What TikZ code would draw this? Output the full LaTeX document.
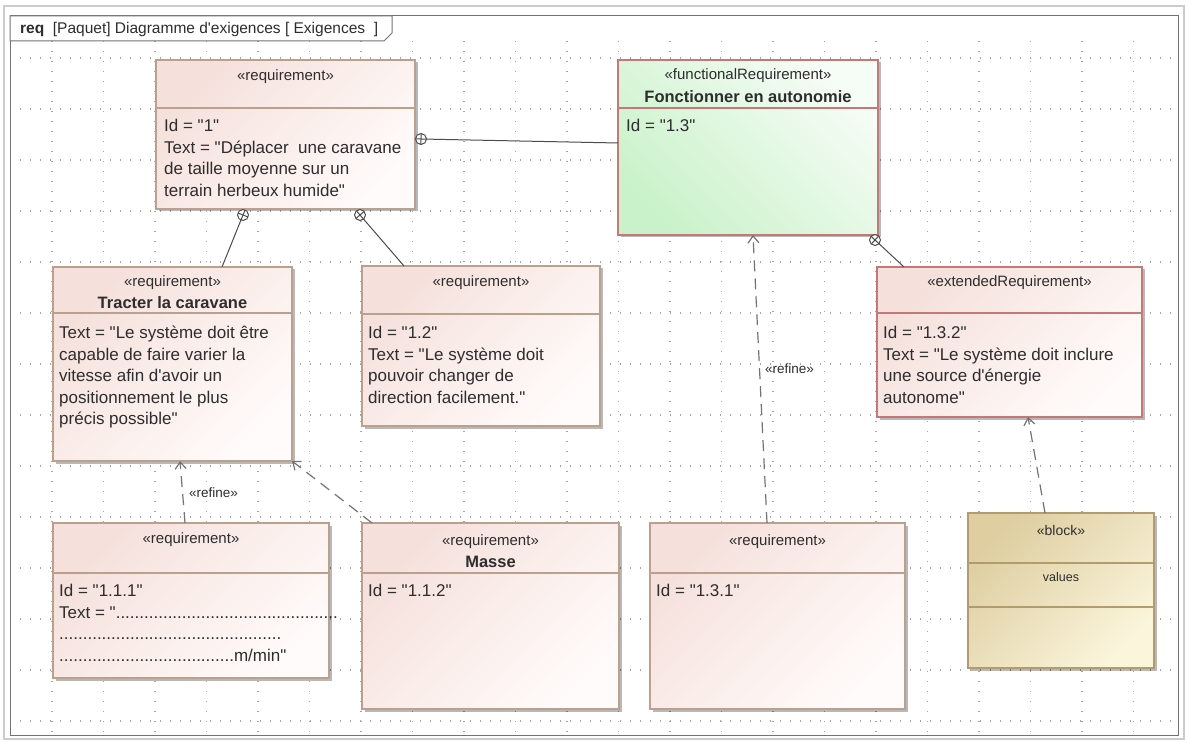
\documentclass[tikz,border=0pt]{standalone}
\usepackage{fontspec}
\setmainfont{Liberation Sans}[Ligatures=TeXOff]
\usetikzlibrary{calc,arrows.meta,shadows}
\definecolor{reqA}{RGB}{245,224,219}
\definecolor{reqB}{RGB}{255,251,250}
\definecolor{reqD}{RGB}{188,160,142}
\definecolor{funA}{RGB}{202,242,202}
\definecolor{funB}{RGB}{246,252,246}
\definecolor{redD}{RGB}{196,120,120}
\definecolor{blkA}{RGB}{222,206,160}
\definecolor{blkB}{RGB}{251,245,220}
\definecolor{blkD}{RGB}{176,156,110}
\definecolor{txt}{RGB}{45,45,45}
\definecolor{gridc}{RGB}{165,165,165}
\begin{document}
\begin{tikzpicture}[x=1pt,y=1pt,
  every node/.style={text=txt},
  reqbox/.style={draw=reqD, line width=1.5pt, anchor=north west, inner sep=0, outer sep=0,
    left color=reqA, right color=reqB, shading angle=45,
    drop shadow={shadow xshift=2.5pt,shadow yshift=-2.5pt,opacity=.28,fill=black}},
  funbox/.style={reqbox, draw=redD, left color=funA, right color=funB, shading angle=135},
  extbox/.style={reqbox, draw=redD},
  blkbox/.style={reqbox, draw=blkD, left color=blkA, right color=blkB, shading angle=45},
  divline/.style={line width=1.2pt},
  stereo/.style={font=\fontsize{15}{17}\selectfont, inner sep=0},
  bname/.style={font=\bfseries\fontsize{16.5}{18}\selectfont, inner sep=0},
  body/.style={anchor=north west, align=left, inner sep=0, font=\fontsize{17}{21.5}\selectfont},
  own/.style={line width=1pt, draw=black!70},
  refine/.style={draw=black!55, line width=1.2pt, dash pattern=on 11pt off 7pt,
    -{Straight Barb[length=7pt,width=11pt,line width=1.2pt]}},
  reflbl/.style={font=\fontsize{13.5}{15}\selectfont, inner sep=0, anchor=west},
  gridl/.style={gridc, line width=1.4pt, dash pattern=on 1.4pt off 8.6pt}
]
\useasboundingbox (0,0) rectangle (1188,-743);
\fill[white] (0,0) rectangle (1188,-743);
% grid
\foreach \gx in {52,103.5,...,1170} \draw[gridl] (\gx,-41) -- (\gx,-735);
\foreach \gy in {58,109,...,730} \draw[gridl] (10,-\gy) -- (1178,-\gy);
% frame
\draw[gray!40, line width=1.2pt] (4,-6) rectangle (1184,-739);
\draw[black!55, line width=1pt] (10,-16) rectangle (1178,-735);
\draw[black!55, line width=1pt, fill=white] (10,-16) -- (392,-16) -- (392,-33) -- (384,-41) -- (10,-41) -- cycle;
\node[anchor=west, inner sep=0, font=\fontsize{15.5}{17}\selectfont] (title) at (20,-29)
  {\textbf{req}~~[Paquet] Diagramme d'exigences [ Exigences~~]};

% box 1
\node[reqbox, minimum width=259pt, minimum height=149pt] (r1) at (156,-60) {};
\draw[reqD, divline] ($(r1.north west)+(0,-48)$) -- ($(r1.north east)+(0,-48)$);
\node[stereo] (r1s) at ($(r1.north)+(0,-17)$) {«requirement»};
\node[body] (r1b) at ($(r1.north west)+(8,-59)$) {Id = "1"\\Text = "Déplacer\ \ une caravane\\de taille moyenne sur un\\terrain herbeux humide"};

% functional
\node[funbox, minimum width=260pt, minimum height=175pt] (fun) at (618,-60) {};
\draw[redD, divline] ($(fun.north west)+(0,-48)$) -- ($(fun.north east)+(0,-48)$);
\node[stereo] (funs) at ($(fun.north)+(0,-16)$) {«functionalRequirement»};
\node[bname] (funn) at ($(fun.north)+(0,-37)$) {Fonctionner en autonomie};
\node[body] (funb) at ($(fun.north west)+(8,-59)$) {Id = "1.3"};

% tracter
\node[reqbox, minimum width=239pt, minimum height=194pt] (tr) at (53,-267) {};
\draw[reqD, divline] ($(tr.north west)+(0,-46)$) -- ($(tr.north east)+(0,-46)$);
\node[stereo] (trs) at ($(tr.north)+(0,-16)$) {«requirement»};
\node[bname] (trn) at ($(tr.north)+(0,-36)$) {Tracter la caravane};
\node[body] (trb) at ($(tr.north west)+(6,-59)$) {Text = "Le système doit être\\capable de faire varier la\\vitesse afin d'avoir un\\positionnement le plus\\précis possible"};

% 1.2
\node[reqbox, minimum width=238pt, minimum height=160pt] (r12) at (362,-266) {};
\draw[reqD, divline] ($(r12.north west)+(0,-48)$) -- ($(r12.north east)+(0,-48)$);
\node[stereo] (r12s) at ($(r12.north)+(0,-17)$) {«requirement»};
\node[body] (r12b) at ($(r12.north west)+(6,-60)$) {Id = "1.2"\\Text = "Le système doit\\pouvoir changer de\\direction facilement."};

% extended
\node[extbox, minimum width=265pt, minimum height=150pt] (ext) at (877,-267) {};
\draw[redD, divline] ($(ext.north west)+(0,-46)$) -- ($(ext.north east)+(0,-46)$);
\node[stereo] (exts) at ($(ext.north)+(0,-16)$) {«extendedRequirement»};
\node[body] (extb) at ($(ext.north west)+(6,-59)$) {Id = "1.3.2"\\Text = "Le système doit inclure\\une source d'énergie\\autonome"};

% 1.1.1
\node[reqbox, minimum width=276pt, minimum height=155pt] (s111) at (53,-523) {};
\draw[reqD, divline] ($(s111.north west)+(0,-50)$) -- ($(s111.north east)+(0,-50)$);
\node[stereo] (s111s) at ($(s111.north)+(0,-17)$) {«requirement»};
\node[body] (s111b) at ($(s111.north west)+(6,-61)$) {Id = "1.1.1"\\Text = "...............................................\\...............................................\\.....................................m/min"};

% masse
\node[reqbox, minimum width=257pt, minimum height=186pt] (masse) at (362,-523) {};
\draw[reqD, divline] ($(masse.north west)+(0,-50)$) -- ($(masse.north east)+(0,-50)$);
\node[stereo] (masses) at ($(masse.north)+(0,-19)$) {«requirement»};
\node[bname] (massen) at ($(masse.north)+(0,-39)$) {Masse};
\node[body] (masseb) at ($(masse.north west)+(6,-61)$) {Id = "1.1.2"};

% 1.3.1
\node[reqbox, minimum width=255pt, minimum height=186pt] (s131) at (650,-523) {};
\draw[reqD, divline] ($(s131.north west)+(0,-50)$) -- ($(s131.north east)+(0,-50)$);
\node[stereo] (s131s) at ($(s131.north)+(0,-19)$) {«requirement»};
\node[body] (s131b) at ($(s131.north west)+(6,-61)$) {Id = "1.3.1"};

% block
\node[blkbox, minimum width=186pt, minimum height=155pt] (blk) at (968,-513) {};
\draw[blkD, divline] ($(blk.north west)+(0,-50)$) -- ($(blk.north east)+(0,-50)$);
\draw[blkD, divline] ($(blk.north west)+(0,-94)$) -- ($(blk.north east)+(0,-94)$);
\node[stereo, font=\fontsize{14}{15}\selectfont] (blks) at ($(blk.north)+(0,-17)$) {«block»};
\node[stereo, font=\fontsize{12.5}{15}\selectfont] (blkv) at ($(blk.north)+(0,-64)$) {values};

% containment connectors
\coordinate (c1) at ($(r1.north east)+(6,-79)$);
\coordinate (t1) at ($(fun.north west)+(0,-83)$);
\coordinate (c2) at ($(r1.south west)+(87,-6)$);
\coordinate (t2) at ($(tr.north west)+(169,0)$);
\coordinate (c3) at ($(r1.south west)+(204,-6)$);
\coordinate (t3) at ($(r12.north west)+(42,0)$);
\coordinate (c4) at ($(fun.south east)+(-3,-5)$);
\coordinate (t4) at ($(ext.north west)+(27,0)$);
\foreach \c/\t in {c1/t1,c2/t2,c3/t3,c4/t4}{
  \draw[own, fill=white] (\c) circle (5.5pt);
  \draw[own] ($(\c)!5.5pt!(\t)$) -- (\t);
  \draw[own] ($(\c)!-5.5pt!(\t)$) -- ($(\c)!5.5pt!(\t)$);
  \draw[own] ($(\c)!5.5pt!90:(\t)$) -- ($(\c)!5.5pt!-90:(\t)$);
}

% refine connectors
\draw[refine] ($(s111.north west)+(132,0)$) -- ($(tr.south west)+(127,0)$);
\node[reflbl] (ref1) at (189,-493) {«refine»};
\draw[refine] ($(masse.north west)+(10,0)$) -- (tr.south east);
\draw[refine] ($(s131.north west)+(117,0)$) -- ($(fun.south west)+(135,0)$);
\node[reflbl] (ref2) at (765,-369) {«refine»};
\draw[refine] ($(blk.north west)+(77,0)$) -- ($(ext.south west)+(151,0)$);
\end{tikzpicture}
\end{document}
